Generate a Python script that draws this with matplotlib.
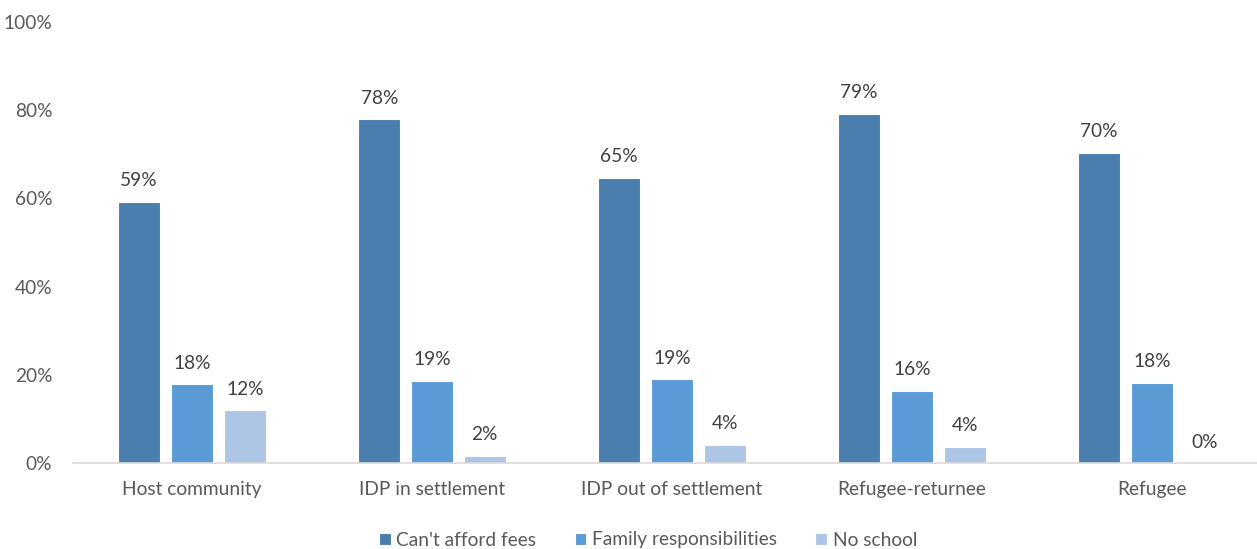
import matplotlib
matplotlib.use("Agg")
import matplotlib.pyplot as plt
import numpy as np

categories = ["Host community", "IDP in settlement", "IDP out of settlement", "Refugee-returnee", "Refugee"]
series_names = ["Can't afford fees", "Family responsibilities", "No school"]
cant_afford = [59.2, 78.0, 64.7, 79.2, 70.4]
family_resp = [17.9, 18.6, 19.0, 16.4, 18.2]
no_school = [12.0, 1.6, 4.1, 3.7, 0.0]
labels_cant = ["59%", "78%", "65%", "79%", "70%"]
labels_fam = ["18%", "19%", "19%", "16%", "18%"]
labels_no = ["12%", "2%", "4%", "4%", "0%"]
yticks = [0, 20, 40, 60, 80, 100]

colors = ["#4A7EAE", "#5B9BD5", "#ADC6E5"]

plt.rcParams['font.family'] = ['Lato', 'DejaVu Sans']

fig = plt.figure(figsize=(12.57, 5.49), dpi=100)
W, H = 1257, 549
ax = fig.add_axes([73 / W, 86 / H, (1257 - 73) / W, (463 - 22) / H])

x = np.arange(len(categories))
off = 0.22
bw = 0.175
fs = 13.8
data = [cant_afford, family_resp, no_school]
labs = [labels_cant, labels_fam, labels_no]
for i, (vals, lab) in enumerate(zip(data, labs)):
    xs = x + (i - 1) * off
    bars = ax.bar(xs, vals, bw, color=colors[i], edgecolor="white", linewidth=0.8, label=series_names[i], zorder=2)
    for b, v, t in zip(bars, vals, lab):
        ax.annotate(t, (b.get_x() + b.get_width() / 2, v), xytext=(0, 9), textcoords="offset points",
                    ha="center", va="bottom", fontsize=fs, color="#404040")

ax.set_xlim((73 - 192) / 240, (1257 - 192) / 240)
ax.set_ylim(0, 100)
ax.set_yticks(yticks)
ax.set_yticklabels([f"{t}%" for t in yticks], fontsize=fs, color="#595959")
ax.set_xticks(x)
ax.set_xticklabels(categories, fontsize=fs, color="#595959")
ax.tick_params(axis="y", length=0, pad=15)
ax.tick_params(axis="x", length=0, pad=13)
for s in ["top", "right", "left"]:
    ax.spines[s].set_visible(False)
ax.spines["bottom"].set_color("#D9D9D9")
ax.spines["bottom"].set_linewidth(1.2)

leg = fig.legend(loc="center", bbox_to_anchor=(648 / W, 1 - 540 / H), ncol=3, frameon=False,
                 fontsize=fs, handlelength=0.6, handleheight=0.6, handletextpad=0.3, columnspacing=2.0)
for t in leg.get_texts():
    t.set_color("#595959")

fig.savefig("out.png", dpi=100)
